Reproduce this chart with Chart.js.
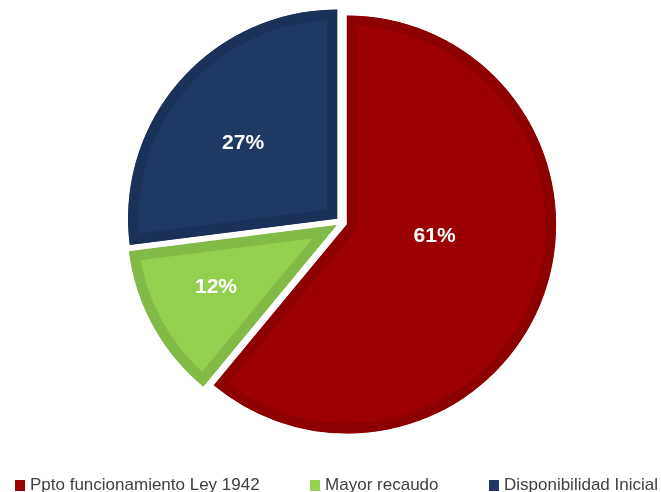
<!DOCTYPE html>
<html>
<head>
<meta charset="utf-8">
<script src="https://cdn.jsdelivr.net/npm/chart.js@4/dist/chart.umd.min.js"></script>
<style>
  html, body { margin: 0; padding: 0; background: #fff; }
  #wrap { width: 661px; height: 492px; }
</style>
</head>
<body>
<div id="wrap"><canvas id="budgetChart" width="661" height="492"></canvas></div>
<script>
const categories = ['Ppto funcionamiento Ley 1942', 'Mayor recaudo', 'Disponibilidad Inicial'];
const shares = [61, 12, 27];
const fillColors = ['#9C0000', '#92D050', '#1F3864'];
const edgeColors = ['#8C0000', '#82BA48', '#1B3159'];

// where each % label sits: [fraction along the slice, fraction of radius]
const labelSpots = [[0.447, 0.45], [0.537, 0.675], [0.474, 0.605]];
const explodeBy = 6;

// pull every slice out by the same distance (Chart.js offset also grows big slices)
const explode = {
    id: 'explode',
    beforeDatasetDraw(chart, args) {
        const ctx = chart.ctx;
        args.meta.data.forEach(arc => {
            const mid = (arc.startAngle + arc.endAngle) / 2;
            ctx.save();
            ctx.translate(Math.cos(mid) * explodeBy, Math.sin(mid) * explodeBy);
            arc.draw(ctx, chart.chartArea);
            ctx.restore();
        });
        return false;
    }
};

const pctLabels = {
    id: 'pctLabels',
    afterDatasetsDraw(chart) {
        const ctx = chart.ctx;
        const arcs = chart.getDatasetMeta(0).data;
        const total = shares.reduce((a, b) => a + b, 0);
        ctx.save();
        ctx.fillStyle = '#ffffff';
        ctx.font = 'bold 21px "Liberation Sans", Arial, sans-serif';
        ctx.textAlign = 'center';
        ctx.textBaseline = 'middle';
        arcs.forEach((arc, i) => {
            const p = arc.getProps(['x', 'y', 'startAngle', 'endAngle', 'outerRadius'], true);
            const a = p.startAngle + (p.endAngle - p.startAngle) * labelSpots[i][0];
            const r = p.outerRadius * labelSpots[i][1];
            const pct = Math.round(shares[i] / total * 100) + '%';
            ctx.fillText(pct, p.x + Math.cos(a) * r, p.y + Math.sin(a) * r);
        });
        ctx.restore();
    }
};

// legend spread across the bottom like the original
const bottomLegend = {
    id: 'bottomLegend',
    afterDraw(chart) {
        const ctx = chart.ctx;
        const left = 15, right = 658, box = 10, gap = 5, y = 485;
        ctx.save();
        ctx.font = '17px "Liberation Sans", Arial, sans-serif';
        ctx.textBaseline = 'middle';
        const widths = categories.map(c => box + gap + ctx.measureText(c).width);
        const space = (right - left - widths.reduce((a, b) => a + b, 0)) / (categories.length - 1);
        let x = left;
        categories.forEach((c, i) => {
            ctx.fillStyle = fillColors[i];
            ctx.fillRect(x, y - 5, box, box + 1);
            ctx.fillStyle = '#404040';
            ctx.fillText(c, x + box + gap, y);
            x += widths[i] + space;
        });
        ctx.restore();
    }
};

new Chart(document.getElementById('budgetChart'), {
    type: 'pie',
    data: {
        labels: categories,
        datasets: [{
            data: shares,
            backgroundColor: fillColors,
            borderColor: edgeColors,
            borderWidth: 10,
            borderAlign: 'inner',
            borderJoinStyle: 'miter',
            radius: 209
        }]
    },
    options: {
        responsive: false,
        animation: false,
        events: [],
        layout: { padding: { left: 22, right: 0, top: 0, bottom: 47 } },
        plugins: {
            legend: { display: false },
            tooltip: { enabled: false }
        }
    },
    plugins: [explode, pctLabels, bottomLegend]
});
</script>
</body>
</html>
